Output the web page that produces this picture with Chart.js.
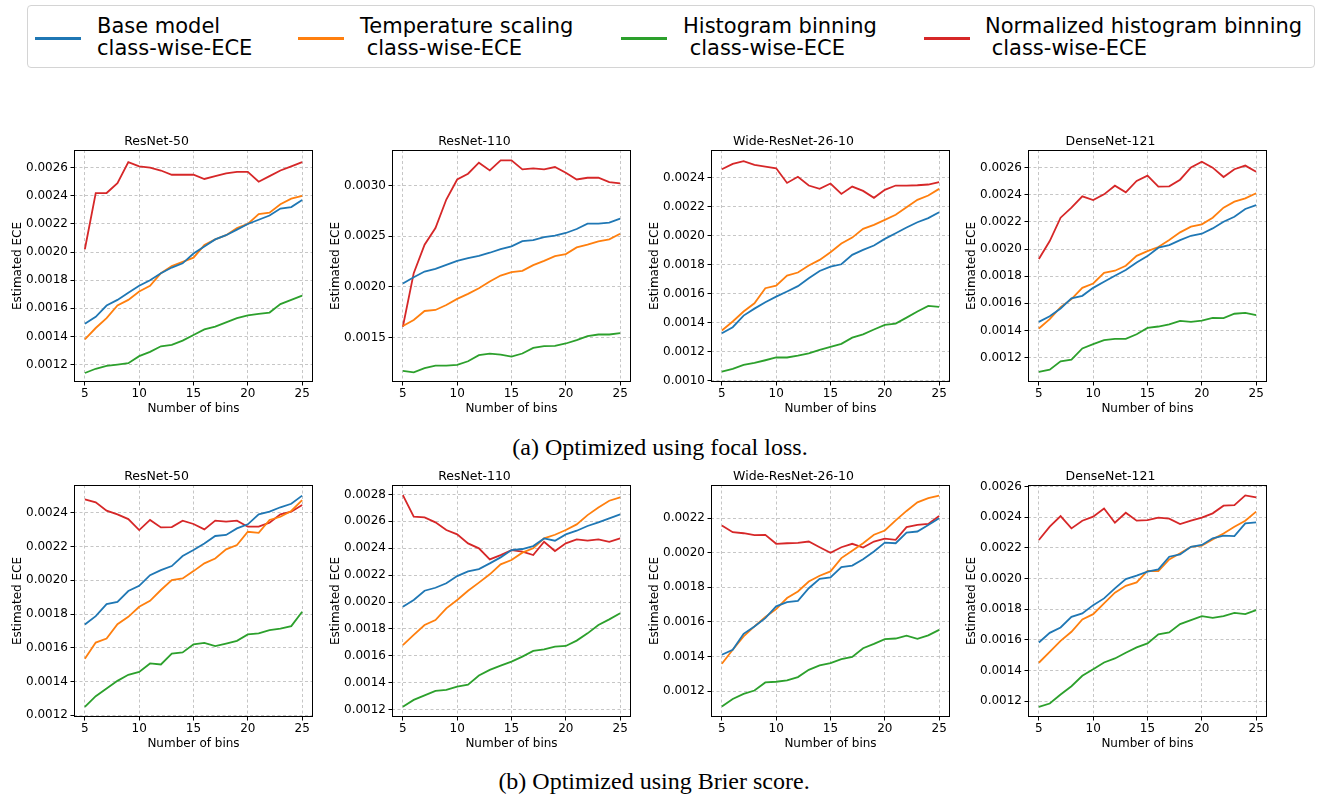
<!DOCTYPE html>
<html>
<head>
<meta charset="utf-8">
<script src="https://cdn.jsdelivr.net/npm/chart.js@4.4.1/dist/chart.umd.min.js"></script>
<style>
  body { margin: 0; background: #fff; }
  #page { position: relative; width: 1318px; height: 795px; overflow: hidden; background: #fff; }
  canvas { position: absolute; }
  #legend { position: absolute; left: 27px; top: 5px; width: 1288px; height: 63px;
            border: 1px solid #d4d4d4; border-radius: 4px; box-sizing: border-box; }
  .lg-line { position: absolute; height: 3px; width: 46px; top: 31px; }
  .lg-text { position: absolute; top: 9px; font-family: 'DejaVu Sans'; font-size: 21px;
             line-height: 22px; white-space: pre; color: #000; }
  .caption { position: absolute; width: 600px; text-align: center; white-space: nowrap;
             font-family: 'Liberation Serif', 'Times New Roman', serif; font-size: 24px; line-height: 24px; color: #000; }
</style>
</head>
<body>
<div id="page">
  <div id="legend"></div>
  <div class="caption" style="left:360px; top:435px;">(a) Optimized using focal loss.</div>
  <div class="caption" style="left:354px; top:769px;">(b) Optimized using Brier score.</div>
</div>
<script>
// x values (number of bins) and axis ticks
const bins = [5, 6, 7, 8, 9, 10, 11, 12, 13, 14, 15, 16, 17, 18, 19, 20, 21, 22, 23, 24, 25];
const xTicks = [5, 10, 15, 20, 25];

const seriesNames = [
  'Base model\nclass-wise-ECE',
  'Temperature scaling\n class-wise-ECE',
  'Histogram binning\n class-wise-ECE',
  'Normalized histogram binning\n class-wise-ECE'
];
const seriesColors = ['#1f77b4', '#ff7f0e', '#2ca02c', '#d62728'];

// (a) focal loss
const focalR50Base = [0.00149,0.00154,0.00162,0.00166,0.00171,0.00176,0.00180,0.00185,0.00189,0.00192,0.00199,0.00204,0.00209,0.00212,0.00216,0.00220,0.00223,0.00226,0.00231,0.00232,0.00237];
const focalR50Temp = [0.00138,0.00146,0.00153,0.00162,0.00166,0.00172,0.00176,0.00185,0.00190,0.00193,0.00196,0.00205,0.00209,0.00212,0.00217,0.00220,0.00227,0.00228,0.00234,0.00238,0.00240];
const focalR50Hist = [0.00114,0.00117,0.00119,0.00120,0.00121,0.00126,0.00129,0.00133,0.00134,0.00137,0.00141,0.00145,0.00147,0.00150,0.00153,0.00155,0.00156,0.00157,0.00163,0.00166,0.00169];
const focalR50Norm = [0.00202,0.00242,0.00242,0.00249,0.00264,0.00261,0.00260,0.00258,0.00255,0.00255,0.00255,0.00252,0.00254,0.00256,0.00257,0.00257,0.00250,0.00254,0.00258,0.00261,0.00264];

const focalR110Base = [0.002032,0.002094,0.00215,0.002177,0.002217,0.002256,0.002283,0.002306,0.002336,0.002372,0.002399,0.002451,0.002461,0.002491,0.002504,0.002531,0.00257,0.002623,0.002623,0.002633,0.002673];
const focalR110Temp = [0.001612,0.001672,0.001761,0.001771,0.00182,0.00188,0.00193,0.001985,0.002052,0.002111,0.002144,0.002157,0.002213,0.002256,0.002303,0.002323,0.002389,0.002415,0.002448,0.002468,0.002524];
const focalR110Hist = [0.001169,0.001156,0.001196,0.001222,0.001222,0.001229,0.001265,0.001325,0.001341,0.001331,0.001311,0.001341,0.001397,0.001414,0.001417,0.00144,0.001473,0.001513,0.001529,0.001529,0.001543];
const focalR110Norm = [0.001605,0.002134,0.002415,0.00258,0.002861,0.003059,0.003116,0.003225,0.003149,0.003248,0.003248,0.003159,0.003169,0.003159,0.003182,0.003126,0.003059,0.003076,0.003076,0.003033,0.00302];

const focalWrnBase = [0.001326,0.001368,0.001448,0.001496,0.00154,0.001579,0.001614,0.001651,0.001706,0.001756,0.001786,0.001802,0.001867,0.001901,0.001931,0.001977,0.002016,0.002055,0.002092,0.00212,0.002161];
const focalWrnTemp = [0.001345,0.001407,0.001476,0.001533,0.001637,0.001655,0.001724,0.001745,0.001793,0.001832,0.001885,0.001945,0.001986,0.002046,0.002074,0.002108,0.002143,0.002195,0.002246,0.002276,0.002322];
const focalWrnHist = [0.001062,0.00108,0.001108,0.001122,0.00114,0.001159,0.001159,0.001172,0.001188,0.001211,0.001232,0.001253,0.001296,0.001319,0.001352,0.001384,0.001393,0.001434,0.001476,0.001515,0.001508];
const focalWrnNorm = [0.002457,0.002494,0.002513,0.002487,0.002476,0.002464,0.002363,0.002405,0.002345,0.002322,0.002359,0.002287,0.002338,0.002308,0.00226,0.002315,0.002345,0.002345,0.002347,0.002352,0.002368];

const focalDnBase = [0.001463,0.001505,0.001562,0.001636,0.001655,0.001714,0.001759,0.001803,0.001845,0.001901,0.001948,0.00201,0.002029,0.002066,0.002098,0.002113,0.002152,0.002201,0.002238,0.002295,0.002324];
const focalDnTemp = [0.001414,0.001483,0.001572,0.001631,0.001714,0.001746,0.001825,0.00184,0.001877,0.00195,0.001985,0.002015,0.002066,0.002123,0.002165,0.002182,0.002231,0.002305,0.002349,0.002374,0.002411];
const focalDnHist = [0.001094,0.001111,0.001173,0.001185,0.001267,0.001299,0.001328,0.001338,0.001338,0.001372,0.001419,0.001429,0.001444,0.001471,0.001463,0.001473,0.001493,0.001491,0.001523,0.00153,0.001513];
const focalDnNorm = [0.001926,0.002059,0.002231,0.002305,0.002388,0.002361,0.002403,0.002467,0.002418,0.002502,0.002541,0.00246,0.002462,0.002511,0.002602,0.002644,0.0026,0.002531,0.002588,0.002615,0.00257];

// (b) Brier score
const brierR50Base = [0.001738,0.001787,0.001859,0.001872,0.001936,0.001967,0.00203,0.00206,0.002084,0.002143,0.002179,0.002218,0.002262,0.002268,0.002307,0.002331,0.00239,0.002406,0.002432,0.002453,0.002501];
const brierR50Temp = [0.001535,0.001631,0.001655,0.00174,0.001783,0.001843,0.001878,0.001942,0.002001,0.002011,0.002054,0.0021,0.002129,0.002183,0.002208,0.002287,0.002281,0.002357,0.002376,0.00241,0.002475];
const brierR50Hist = [0.00125,0.001313,0.001359,0.001404,0.00144,0.001457,0.001507,0.001501,0.001566,0.001572,0.00162,0.001629,0.00161,0.001625,0.001641,0.001679,0.001685,0.001704,0.001714,0.001728,0.001813];
const brierR50Norm = [0.002479,0.002461,0.002412,0.00239,0.002362,0.002297,0.002357,0.002313,0.002315,0.002353,0.002333,0.002301,0.002353,0.002347,0.002353,0.002317,0.002317,0.002341,0.00239,0.002406,0.002445];

const brierR110Base = [0.001965,0.002015,0.002084,0.002106,0.002139,0.002193,0.002228,0.002245,0.002287,0.002332,0.002386,0.002394,0.002416,0.002473,0.002456,0.002503,0.00253,0.002565,0.002592,0.002622,0.002651];
const brierR110Temp = [0.00168,0.001755,0.001829,0.001866,0.001953,0.002015,0.002084,0.002144,0.002206,0.00228,0.002312,0.002367,0.002399,0.002473,0.0025,0.002535,0.002577,0.002646,0.002703,0.002753,0.002778];
const brierR110Hist = [0.001222,0.001272,0.001306,0.001339,0.001346,0.001371,0.001386,0.001453,0.001495,0.001527,0.001557,0.001594,0.001636,0.001648,0.001668,0.001673,0.001713,0.001767,0.001829,0.001871,0.001916];
const brierR110Norm = [0.002795,0.002634,0.002629,0.002592,0.002535,0.002503,0.002436,0.002399,0.002317,0.002349,0.002386,0.002374,0.002349,0.002448,0.002379,0.002436,0.002466,0.002456,0.002466,0.002448,0.002473];

const brierWrnBase = [0.00141,0.001439,0.001531,0.001574,0.001622,0.00169,0.001714,0.001722,0.001795,0.001849,0.001857,0.001917,0.001926,0.001963,0.002007,0.002059,0.002055,0.002117,0.002123,0.002161,0.0022];
const brierWrnTemp = [0.001358,0.001439,0.001516,0.001574,0.001628,0.001674,0.001738,0.001776,0.001834,0.001867,0.001892,0.001969,0.002011,0.002055,0.002104,0.002129,0.002187,0.002242,0.002292,0.002316,0.002331];
const brierWrnHist = [0.001111,0.001154,0.001184,0.001203,0.00125,0.001254,0.001262,0.001281,0.001323,0.001348,0.001362,0.001385,0.001398,0.001448,0.001473,0.0015,0.001504,0.00152,0.001502,0.001522,0.001554];
const brierWrnNorm = [0.002158,0.002119,0.002113,0.002102,0.002104,0.002052,0.002055,0.002057,0.002065,0.002032,0.0020,0.002032,0.002052,0.00203,0.002065,0.002082,0.002075,0.002148,0.002161,0.002167,0.002213];

const brierDnBase = [0.001583,0.001646,0.001681,0.001751,0.001773,0.001827,0.001871,0.001936,0.001997,0.002019,0.002045,0.00206,0.002143,0.002158,0.002208,0.00222,0.002263,0.00228,0.002278,0.002361,0.002367];
const brierDnTemp = [0.001451,0.001522,0.001594,0.001653,0.001734,0.001768,0.001838,0.001908,0.001953,0.001975,0.002051,0.002049,0.002125,0.002165,0.002208,0.002215,0.002256,0.002295,0.002339,0.002378,0.002437];
const brierDnHist = [0.001163,0.001185,0.001244,0.001298,0.001366,0.001409,0.001453,0.001479,0.001516,0.001551,0.001577,0.001636,0.001649,0.001703,0.001729,0.001755,0.001744,0.001755,0.001777,0.001768,0.001795];
const brierDnNorm = [0.002252,0.002339,0.002408,0.002328,0.002378,0.002404,0.002458,0.002365,0.00243,0.002378,0.002382,0.002398,0.002391,0.002356,0.002378,0.002398,0.002426,0.002476,0.00248,0.002543,0.00253];

// y tick values per panel
const ticks0012to0026 = [0.0012, 0.0014, 0.0016, 0.0018, 0.0020, 0.0022, 0.0024, 0.0026];
const ticks0015to0030 = [0.0015, 0.0020, 0.0025, 0.0030];
const ticks0010to0024 = [0.0010, 0.0012, 0.0014, 0.0016, 0.0018, 0.0020, 0.0022, 0.0024];
const ticks0012to0024 = [0.0012, 0.0014, 0.0016, 0.0018, 0.0020, 0.0022, 0.0024];
const ticks0012to0028 = [0.0012, 0.0014, 0.0016, 0.0018, 0.0020, 0.0022, 0.0024, 0.0026, 0.0028];
const ticks0012to0022 = [0.0012, 0.0014, 0.0016, 0.0018, 0.0020, 0.0022];

const panels = [
  { title: 'ResNet-50',        series: [focalR50Base, focalR50Temp, focalR50Hist, focalR50Norm],     yMin: 0.001076, yMax: 0.002726, yTicks: ticks0012to0026, left: 74,   top: 150 },
  { title: 'ResNet-110',       series: [focalR110Base, focalR110Temp, focalR110Hist, focalR110Norm], yMin: 0.00106,  yMax: 0.00335,  yTicks: ticks0015to0030, left: 392,  top: 150 },
  { title: 'Wide-ResNet-26-10',series: [focalWrnBase, focalWrnTemp, focalWrnHist, focalWrnNorm],     yMin: 0.00099,  yMax: 0.00259,  yTicks: ticks0010to0024, left: 711,  top: 150 },
  { title: 'DenseNet-121',     series: [focalDnBase, focalDnTemp, focalDnHist, focalDnNorm],         yMin: 0.00102,  yMax: 0.00273,  yTicks: ticks0012to0026, left: 1028, top: 150 },
  { title: 'ResNet-50',        series: [brierR50Base, brierR50Temp, brierR50Hist, brierR50Norm],     yMin: 0.00119,  yMax: 0.002564, yTicks: ticks0012to0024, left: 74,   top: 485 },
  { title: 'ResNet-110',       series: [brierR110Base, brierR110Temp, brierR110Hist, brierR110Norm], yMin: 0.001145, yMax: 0.00287,  yTicks: ticks0012to0028, left: 392,  top: 485 },
  { title: 'Wide-ResNet-26-10',series: [brierWrnBase, brierWrnTemp, brierWrnHist, brierWrnNorm],     yMin: 0.00105,  yMax: 0.002392, yTicks: ticks0012to0022, left: 711,  top: 485 },
  { title: 'DenseNet-121',     series: [brierDnBase, brierDnTemp, brierDnHist, brierDnNorm],         yMin: 0.001097, yMax: 0.002611, yTicks: ticks0012to0026, left: 1028, top: 485 }
];

// plot box sizes (px)
const PLOT_W = 239, PLOT_H = 232;
const Y_AXIS_W = 74, X_AXIS_H = 40, TITLE_H = 30, RIGHT_PAD = 6;

Chart.defaults.font.family = 'DejaVu Sans';
Chart.defaults.font.size = 12;
Chart.defaults.color = '#000';

const page = document.getElementById('page');

// legend (html)
const legend = document.getElementById('legend');
const lineX = [7, 270, 593, 896];
const textX = [69, 332, 655, 957];
seriesNames.forEach((name, i) => {
  const ln = document.createElement('div');
  ln.className = 'lg-line';
  ln.style.left = lineX[i] + 'px';
  ln.style.background = seriesColors[i];
  legend.appendChild(ln);
  const tx = document.createElement('div');
  tx.className = 'lg-text';
  tx.style.left = textX[i] + 'px';
  tx.textContent = name;
  legend.appendChild(tx);
});

// black box round the plot area, like matplotlib spines
const framePlugin = {
  id: 'frame',
  afterDraw(chart) {
    const a = chart.chartArea, ctx = chart.ctx;
    ctx.save();
    ctx.strokeStyle = '#000';
    ctx.lineWidth = 1;
    ctx.strokeRect(a.left + 0.5, a.top + 0.5, a.right - a.left - 1, a.bottom - a.top - 1);
    ctx.restore();
  }
};

const gridOpts = {
  color: '#b8b8b8',
  lineWidth: 0.8,
  drawTicks: true,
  tickLength: 3.5,
  tickColor: '#000',
  tickWidth: 1,
  tickBorderDash: []
};

panels.forEach((p) => {
  const cv = document.createElement('canvas');
  const w = PLOT_W + Y_AXIS_W + RIGHT_PAD;
  const h = PLOT_H + TITLE_H + X_AXIS_H;
  cv.width = w;
  cv.height = h;
  cv.style.left = (p.left - Y_AXIS_W) + 'px';
  cv.style.top = (p.top - TITLE_H) + 'px';
  cv.style.width = w + 'px';
  cv.style.height = h + 'px';
  page.appendChild(cv);

  const datasets = p.series.map((vals, i) => ({
    label: seriesNames[i],
    data: bins.map((b, j) => ({ x: b, y: vals[j] })),
    borderColor: seriesColors[i],
    backgroundColor: seriesColors[i],
    borderWidth: 1.8,
    pointRadius: 0,
    tension: 0,
    fill: false
  }));

  new Chart(cv, {
    type: 'line',
    data: { datasets: datasets },
    options: {
      responsive: false,
      animation: false,
      devicePixelRatio: 1,
      layout: { padding: { left: 0, right: RIGHT_PAD, top: 0, bottom: 0 } },
      plugins: {
        legend: { display: false },
        tooltip: { enabled: false },
        title: {
          display: true,
          text: p.title,
          font: { size: 12.5, weight: 'normal' },
          color: '#000',
          padding: { top: 14.5, bottom: 0.5 }
        }
      },
      scales: {
        x: {
          type: 'linear',
          min: 4,
          max: 26,
          afterBuildTicks: (s) => { s.ticks = xTicks.map(v => ({ value: v })); },
          afterFit: (s) => { s.height = X_AXIS_H; },
          ticks: { padding: 1, maxRotation: 0, callback: (v) => String(v) },
          grid: gridOpts,
          border: { display: false, dash: [3, 2.5] },
          title: { display: true, text: 'Number of bins', padding: { top: 0, bottom: 5.8 } }
        },
        y: {
          type: 'linear',
          min: p.yMin,
          max: p.yMax,
          afterBuildTicks: (s) => { s.ticks = p.yTicks.map(v => ({ value: v })); },
          afterFit: (s) => { s.width = Y_AXIS_W; },
          ticks: { padding: 2.5, callback: (v) => Number(v).toFixed(4) },
          grid: gridOpts,
          border: { display: false, dash: [3, 2.5] },
          title: { display: true, text: 'Estimated ECE', padding: { top: 10.5, bottom: 0 } }
        }
      }
    },
    plugins: [framePlugin]
  });
});
</script>
</body>
</html>
